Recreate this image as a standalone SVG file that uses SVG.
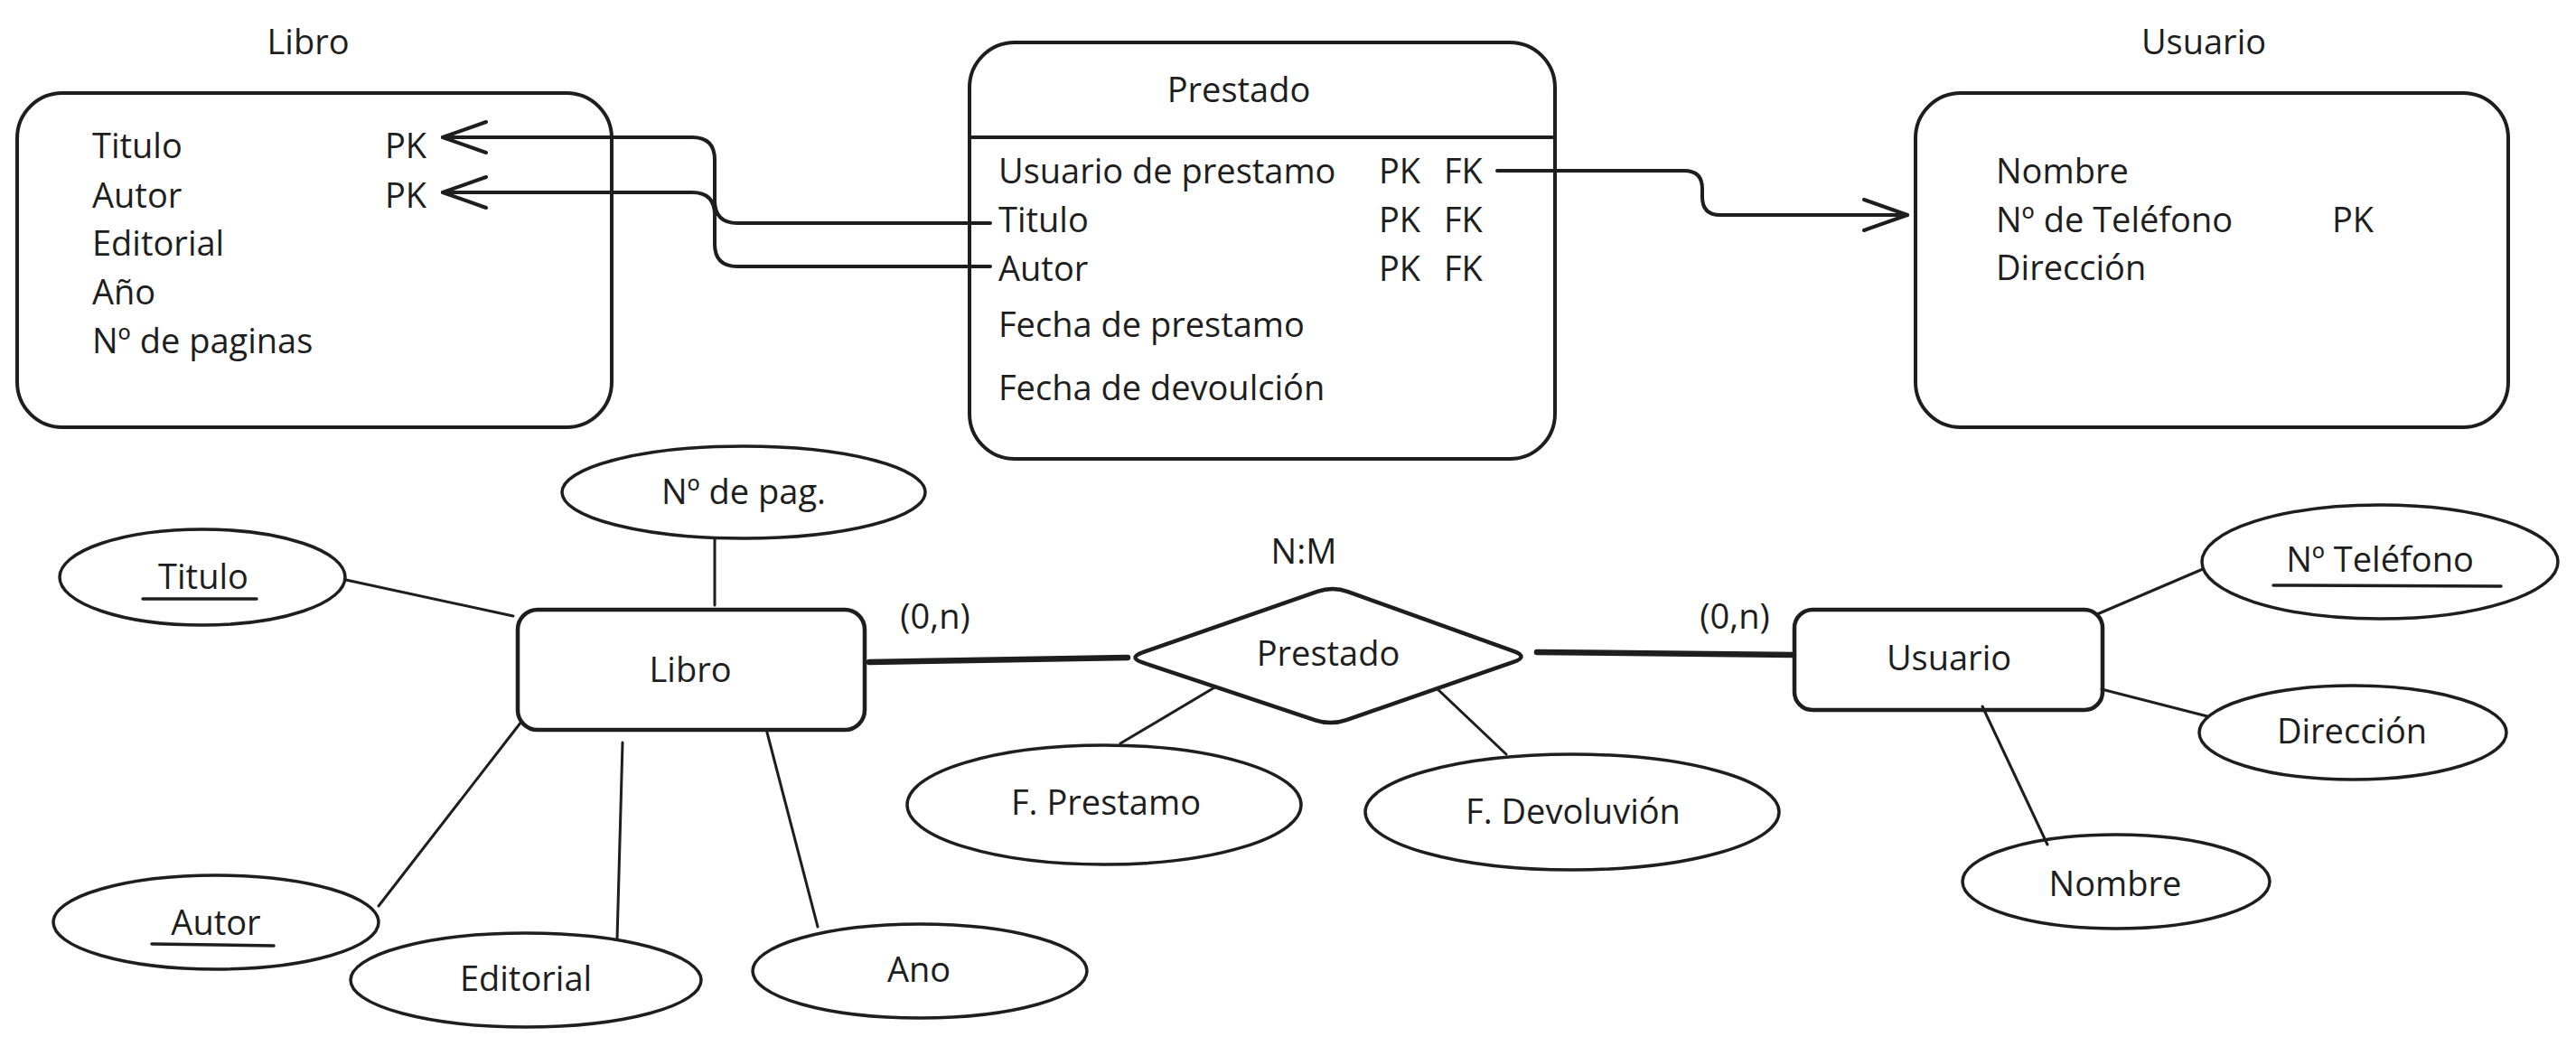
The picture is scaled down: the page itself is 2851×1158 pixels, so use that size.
<svg xmlns="http://www.w3.org/2000/svg" width="2851" height="1158" viewBox="0 0 2851 1158">
<style>
text{font-family:"Open Sans","Noto Sans","Liberation Sans",sans-serif;font-size:38px;fill:#1e1e1e}
.c{text-anchor:middle}
.box{fill:none;stroke:#1e1e1e;stroke-width:4}
.ent{fill:none;stroke:#1e1e1e;stroke-width:4.5}
.ell{fill:none;stroke:#1e1e1e;stroke-width:3.5}
.ln{fill:none;stroke:#1e1e1e;stroke-width:3;stroke-linecap:round}
.thick{fill:none;stroke:#1e1e1e;stroke-width:6.5;stroke-linecap:round}
.conn{fill:none;stroke:#1e1e1e;stroke-width:4;stroke-linecap:round;stroke-linejoin:round}
.ul{stroke:#1e1e1e;stroke-width:3.5;stroke-linecap:round}
</style>
<defs>
<marker id="arr" markerUnits="userSpaceOnUse" orient="auto" refX="0" refY="0" markerWidth="60" markerHeight="40" viewBox="-55 -20 60 40" overflow="visible">
<path d="M-48,-17 L0,0 L-48,17" fill="none" stroke="#1e1e1e" stroke-width="4" stroke-linecap="round" stroke-linejoin="round"/>
</marker>
</defs>
<rect width="2851" height="1158" fill="#ffffff"/>

<g id="table-libro">
<text class="c" x="341" y="60">Libro</text>
<rect class="box" x="19" y="103" width="658" height="370" rx="50" ry="50"/>
<text x="102" y="175">Titulo</text>
<text x="102" y="230">Autor</text>
<text x="102" y="283">Editorial</text>
<text x="102" y="337">Año</text>
<text x="102" y="391">Nº de paginas</text>
<text x="426" y="175">PK</text>
<text x="426" y="230">PK</text>
</g>

<g id="table-prestado">
<rect class="box" x="1073" y="47" width="648" height="461" rx="50" ry="50"/>
<line class="box" x1="1073" y1="152" x2="1721" y2="152"/>
<text class="c" x="1371" y="113">Prestado</text>
<text x="1105" y="203">Usuario de prestamo</text>
<text x="1105" y="257">Titulo</text>
<text x="1105" y="311">Autor</text>
<text x="1105" y="373">Fecha de prestamo</text>
<text x="1105" y="443">Fecha de devoulción</text>
<text x="1526" y="203">PK</text><text x="1598" y="203">FK</text>
<text x="1526" y="257">PK</text><text x="1598" y="257">FK</text>
<text x="1526" y="311">PK</text><text x="1598" y="311">FK</text>
</g>

<g id="table-usuario">
<text class="c" x="2439" y="60">Usuario</text>
<rect class="box" x="2120" y="103" width="656" height="370" rx="50" ry="50"/>
<text x="2209" y="203">Nombre</text>
<text x="2209" y="257">Nº de Teléfono</text>
<text x="2209" y="310">Dirección</text>
<text x="2581" y="257">PK</text>
</g>

<g id="connectors">
<path class="conn" marker-end="url(#arr)" d="M1096,247 H816 Q791,247 791,222 V177 Q791,152 766,152 H490"/>
<path class="conn" marker-end="url(#arr)" d="M1096,295 H816 Q791,295 791,270 V238 Q791,213 766,213 H490"/>
<path class="conn" marker-end="url(#arr)" d="M1657,189 H1864 Q1884,189 1884,209 V218 Q1884,238 1904,238 H2111"/>
<line class="thick" x1="962" y1="733" x2="1248" y2="728"/>
<line class="thick" x1="1701" y1="722" x2="1985" y2="725"/>
<line class="ln" x1="791" y1="596" x2="791" y2="670"/>
<line class="ln" x1="383" y1="642" x2="568" y2="682"/>
<line class="ln" x1="577" y1="799" x2="419" y2="1003"/>
<line class="ln" x1="689" y1="822" x2="683" y2="1040"/>
<line class="ln" x1="849" y1="811" x2="905" y2="1026"/>
<line class="ln" x1="1346" y1="760" x2="1240" y2="823"/>
<line class="ln" x1="1590" y1="762" x2="1667" y2="835"/>
<line class="ln" x1="2321" y1="680" x2="2438" y2="630"/>
<line class="ln" x1="2326" y1="763" x2="2443" y2="793"/>
<line class="ln" x1="2194" y1="782" x2="2266" y2="935"/>
</g>

<g id="entity-libro">
<rect class="ent" x="573" y="675" width="384" height="133" rx="22" ry="22"/>
<text class="c" x="764" y="755">Libro</text>
</g>

<g id="entity-usuario">
<rect class="ent" x="1986" y="675" width="341" height="111" rx="20" ry="20"/>
<text class="c" x="2157" y="742">Usuario</text>
</g>

<g id="rel-prestado">
<path class="ent" d="M1265,722.1 L1458,654.9 Q1475,649 1491.9,655.1 L1675.1,720.9 Q1692,727 1675,732.9 L1490,797.1 Q1473,803 1455.9,797.3 L1265.1,733.7 Q1248,728 1265,722.1 Z"/>
<text class="c" x="1470" y="737">Prestado</text>
<text class="c" x="1443" y="624">N:M</text>
</g>

<g id="card-left"><text class="c" x="1035" y="696">(0,n)</text></g>
<g id="card-right"><text class="c" x="1920" y="696">(0,n)</text></g>

<g id="attr-npag">
<ellipse class="ell" cx="823" cy="545" rx="201" ry="51"/>
<text class="c" x="823" y="558">Nº de pag.</text>
</g>
<g id="attr-titulo">
<ellipse class="ell" cx="224" cy="639" rx="158" ry="53"/>
<text class="c" x="225" y="652">Titulo</text>
<line class="ul" x1="158" y1="663" x2="284" y2="663"/>
</g>
<g id="attr-autor">
<ellipse class="ell" cx="239" cy="1021" rx="180" ry="52"/>
<text class="c" x="239" y="1035">Autor</text>
<line class="ul" x1="168" y1="1045" x2="303" y2="1047"/>
</g>
<g id="attr-editorial">
<ellipse class="ell" cx="582" cy="1085" rx="194" ry="52"/>
<text class="c" x="582" y="1097">Editorial</text>
</g>
<g id="attr-ano">
<ellipse class="ell" cx="1018" cy="1075" rx="185" ry="52"/>
<text class="c" x="1017" y="1087">Ano</text>
</g>
<g id="attr-fprestamo">
<ellipse class="ell" cx="1222" cy="891" rx="218" ry="66"/>
<text class="c" x="1224" y="902">F. Prestamo</text>
</g>
<g id="attr-fdevolucion">
<ellipse class="ell" cx="1740" cy="899" rx="229" ry="64"/>
<text class="c" x="1741" y="912">F. Devoluvión</text>
</g>
<g id="attr-ntelefono">
<ellipse class="ell" cx="2634" cy="622" rx="197" ry="63"/>
<text class="c" x="2634" y="633">Nº Teléfono</text>
<line class="ul" x1="2516" y1="648" x2="2768" y2="649"/>
</g>
<g id="attr-direccion">
<ellipse class="ell" cx="2604" cy="811" rx="170" ry="52"/>
<text class="c" x="2603" y="823">Dirección</text>
</g>
<g id="attr-nombre">
<ellipse class="ell" cx="2342" cy="976" rx="170" ry="52"/>
<text class="c" x="2341" y="992">Nombre</text>
</g>
</svg>
